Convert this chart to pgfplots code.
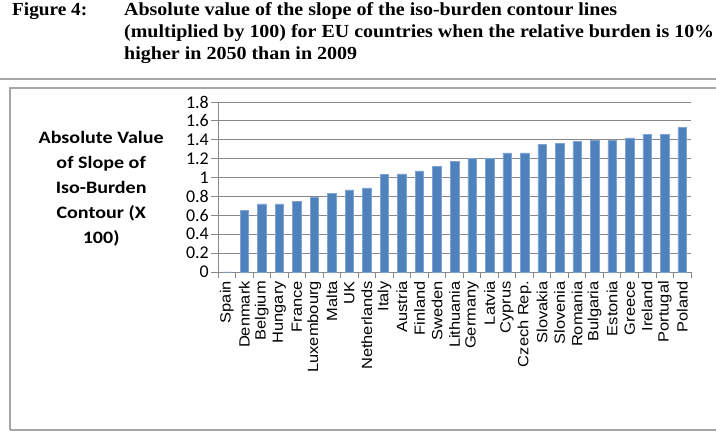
\documentclass[border=0pt]{standalone}
\usepackage{pgfplots}
\pgfplotsset{compat=1.18}
\usepackage{fontspec}
\setmainfont{Liberation Serif}
\newfontfamily\arial{Liberation Sans}
\newfontfamily\carlito{Carlito}
\definecolor{barblue}{HTML}{4F81BD}
\definecolor{baredge}{HTML}{7FA3D3}
\definecolor{gridgray}{HTML}{888888}
\definecolor{framegray}{HTML}{A6A6A6}
\newcommand\xl[1]{\scalebox{1}[0.9]{#1}}
\pgfplotstableread{
idx val
0 0
1 0.65
2 0.72
3 0.72
4 0.75
5 0.79
6 0.83
7 0.87
8 0.89
9 1.03
10 1.04
11 1.07
12 1.12
13 1.17
14 1.20
15 1.20
16 1.26
17 1.26
18 1.35
19 1.36
20 1.38
21 1.39
22 1.39
23 1.42
24 1.46
25 1.46
26 1.53
}\datatable
\begin{document}
\begin{tikzpicture}
\path[use as bounding box] (0bp,0bp) rectangle (716bp,432bp);
% title
\tikzset{ttl/.style={anchor=base west,inner sep=0pt,font=\fontsize{18.5}{20}\selectfont\bfseries}}
\node[ttl] at (12bp,416bp) {\resizebox{75bp}{\height}{Figure 4:}};
\node[ttl] at (124bp,416bp) {\resizebox{493bp}{\height}{Absolute value of the slope of the iso-burden contour lines}};
\node[ttl] at (124bp,394bp) {\resizebox{590bp}{\height}{(multiplied by 100) for EU countries when the relative burden is 10\%}};
\node[ttl] at (124bp,372bp) {\resizebox{233bp}{\height}{higher in 2050 than in 2009}};
\draw[framegray,line width=1.2bp] (0bp,353bp) -- (716bp,353bp);
\draw[framegray,line width=1.2bp] (10bp,2bp) -- (10bp,344bp) -- (720bp,344bp);
\draw[framegray,line width=1.2bp] (10bp,2bp) -- (720bp,2bp);
\begin{axis}[
  at={(218bp,160bp)}, anchor=south west,
  scale only axis, width=473bp, height=170bp,
  xmin=-0.5, xmax=26.5, ymin=0, ymax=1.8,
  ytick={0,0.2,...,1.8},
  ymajorgrids, grid style={gridgray, line width=0.9bp},
  axis x line*=bottom, axis y line*=left,
  axis line style={gridgray, line width=0.9bp},
  xtick={0,...,26},
  xticklabels={\xl{Spain},\xl{Denmark},\xl{Belgium},\xl{Hungary},\xl{France},\xl{Luxembourg},\xl{Malta},\xl{UK},\xl{Netherlands},\xl{Italy},\xl{Austria},\xl{Finland},\xl{Sweden},\xl{Lithuania},\xl{Germany},\xl{Latvia},\xl{Cyprus},\xl{Czech Rep.},\xl{Slovakia},\xl{Slovenia},\xl{Romania},\xl{Bulgaria},\xl{Estonia},\xl{Greece},\xl{Ireland},\xl{Portugal},\xl{Poland}},
  major x tick style={draw=none},
  minor xtick={-0.5,0.5,...,26.5},
  minor x tick style={gridgray, line width=0.9bp},
  minor tick length=6bp,
  major tick length=7bp,
  tick align=outside,
  ytick style={gridgray, line width=0.9bp},
  x tick label style={font=\arial\fontsize{16.5}{16.5}\selectfont, rotate=90, anchor=east, inner sep=2bp},
  y tick label style={font=\carlito\fontsize{18}{18}\selectfont, inner sep=2bp},
  /pgf/number format/assume math mode=true,
  ylabel={\scalebox{1.15}[1]{Absolute Value}\\\scalebox{1.15}[1]{of Slope of}\\\scalebox{1.15}[1]{Iso-Burden}\\\scalebox{1.15}[1]{Contour (X}\\\scalebox{1.15}[1]{100)}},
  ylabel style={rotate=-90, at={(rel axis cs:-0.247,0.49)}, anchor=center, align=center, font=\carlito\bfseries\fontsize{17.5}{25}\selectfont},
  clip=false,
]
\addplot[ybar, bar width=8.5bp, fill=barblue, draw=baredge, line width=0.5bp] table[x=idx,y=val] {\datatable};
\end{axis}
\end{tikzpicture}
\end{document}
